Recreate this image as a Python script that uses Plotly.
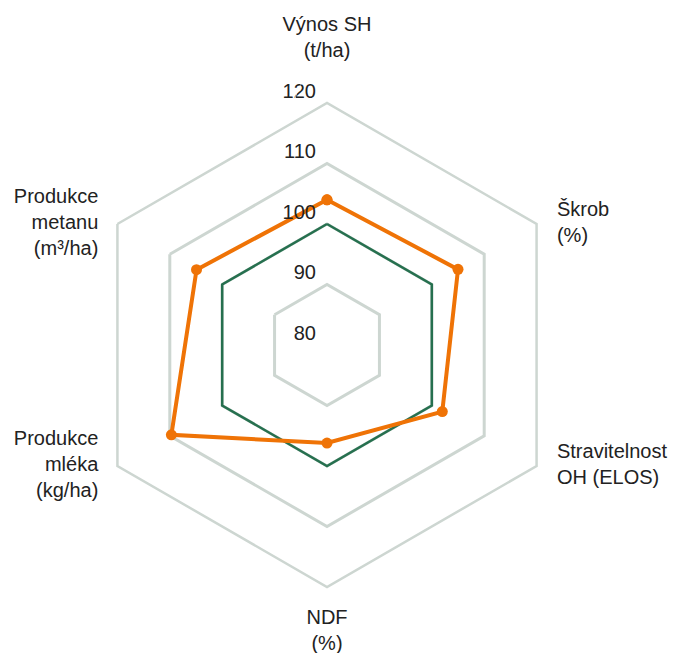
import plotly.graph_objects as go

# ---- data ----
categories = [
    "Výnos SH<br>(t/ha)",
    "Škrob<br>(%)",
    "Stravitelnost<br>OH (ELOS)",
    "NDF<br>(%)",
    "Produkce<br>mléka<br>(kg/ha)",
    "Produkce<br>metanu<br>(m³/ha)",
]
reference_values = [100, 100, 100, 100, 100, 100]
hybrid_values = [104, 105, 102, 96.2, 109.7, 104.9]
radial_ticks = [80, 90, 100, 110, 120]

grid_color = "#cdd6d1"
orange = "#ef7306"
green = "#26704f"
text_color = "#222222"
font_family = "Liberation Sans, Arial, sans-serif"
fs = 20

def closed(vals):
    return list(vals) + [vals[0]]

fig = go.Figure()

fig.add_trace(go.Scatterpolar(
    r=closed(reference_values), theta=closed(categories),
    mode="lines", line=dict(color=green, width=2.5),
    hoverinfo="skip", name="reference",
))
fig.add_trace(go.Scatterpolar(
    r=closed(hybrid_values), theta=closed(categories),
    mode="lines+markers", line=dict(color=orange, width=4),
    marker=dict(color=orange, size=11),
    name="hybrid",
))

# radial tick labels, placed through the polar scale
fig.add_trace(go.Scatterpolar(
    r=radial_ticks, theta=[categories[0]] * len(radial_ticks),
    mode="text", text=[f"{v}\u00a0\u00a0" for v in radial_ticks],
    textposition="top left", cliponaxis=False,
    textfont=dict(size=fs, color=text_color, family=font_family),
    hoverinfo="skip", name="ticks",
))

# category labels at the outer ring
label_positions = ["top center", "middle right", "middle right",
                   "bottom center", "middle left", "middle left"]
label_pad = [64, 31, 31, 34, 29, 29]
fig.add_trace(go.Scatterpolar(
    r=[radial_ticks[-1]] * len(categories), theta=categories,
    mode="markers+text", text=categories,
    textposition=label_positions, cliponaxis=False,
    marker=dict(size=label_pad, color="rgba(0,0,0,0)"),
    textfont=dict(size=fs, color=text_color, family=font_family),
    hoverinfo="skip", name="labels",
))

fig.update_layout(
    template="none",
    width=681, height=653,
    margin=dict(l=0, r=0, t=0, b=0),
    paper_bgcolor="white",
    showlegend=False,
    font=dict(family=font_family, size=fs, color=text_color),
    polar=dict(
        domain=dict(x=[77 / 681, 561 / 681], y=[74 / 653, 558 / 653]),
        gridshape="linear",
        bgcolor="white",
        radialaxis=dict(
            range=[radial_ticks[0] - 0.01, radial_ticks[-1]],
            tickvals=radial_ticks[1:],
            showticklabels=False, showline=False, ticks="",
            gridcolor=grid_color, gridwidth=2.5, angle=90,
        ),
        angularaxis=dict(
            rotation=90, direction="clockwise",
            showgrid=False, linecolor=grid_color, linewidth=2.5,
            showticklabels=False, ticks="",
        ),
    ),
)

fig.write_html("out.html")
